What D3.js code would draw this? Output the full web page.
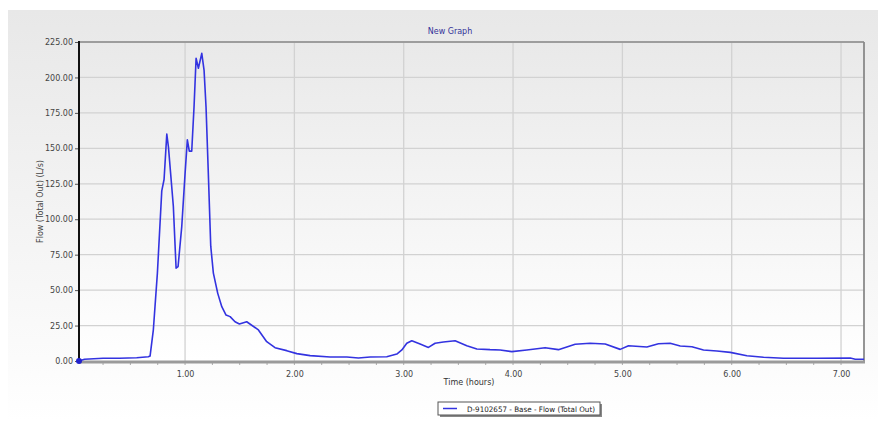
<!DOCTYPE html>
<html><head><meta charset="utf-8">
<script src="https://cdn.jsdelivr.net/npm/d3@7"></script>
<style>body{margin:0;background:#fff}svg{display:block}</style>
</head><body>
<script>
// ---- data ----
const timeHours = [0.03,0.08,0.25,0.4,0.558,0.664,0.68,0.71,0.747,0.787,0.808,0.833,0.848,0.893,0.918,0.936,0.970,1.0,1.021,1.039,1.061,1.082,1.101,1.122,1.153,1.174,1.192,1.213,1.235,1.259,1.299,1.336,1.375,1.412,1.457,1.497,1.564,1.671,1.747,1.823,1.930,2.022,2.144,2.327,2.48,2.586,2.693,2.845,2.937,2.983,3.028,3.074,3.15,3.226,3.287,3.363,3.47,3.577,3.669,3.79,3.882,3.989,4.126,4.293,4.415,4.568,4.705,4.843,4.98,5.056,5.224,5.33,5.437,5.529,5.636,5.742,5.865,5.987,6.139,6.291,6.474,6.78,7.084,7.13,7.21];
const flowLs = [0,1.2,1.9,1.9,2.3,3.0,3.5,22,62,120,128,160,151,109,65.5,66.5,95,132,156,148,148,179,213.5,206.5,217,205,179,132,81,62,47.7,38.3,32.4,31.3,27.7,26.1,27.7,21.9,13.6,9.4,7.3,5.2,3.8,2.8,2.8,2.1,2.8,3.0,4.9,7.8,12.5,14.3,12.0,9.6,12.5,13.4,14.3,10.8,8.5,8.0,7.8,6.6,7.8,9.4,8.0,11.8,12.5,12.0,8.2,10.8,9.9,12.2,12.5,10.6,10.1,7.8,7.1,6.1,3.7,2.6,1.9,1.9,2.1,1.2,1.2];
const yTicks = [0,25,50,75,100,125,150,175,200,225];
const xTicks = [1,2,3,4,5,6,7];
const title = "New Graph";
const xLabel = "Time (hours)";
const yLabel = "Flow (Total Out) (L/s)";
const legendLabel = "D-9102657 - Base - Flow (Total Out)";

const W = 878, H = 427;
const L = 79, R = 864, T = 42, B = 361;
const font = "'DejaVu Sans', Verdana, sans-serif";

const svg = d3.select("body").append("svg").attr("width", W).attr("height", H);
const defs = svg.append("defs");
const g1 = defs.append("linearGradient").attr("id","panelGrad").attr("x1",0).attr("y1",0).attr("x2",0).attr("y2",1);
g1.append("stop").attr("offset","0%").attr("stop-color","#e8e8e8");
g1.append("stop").attr("offset","85%").attr("stop-color","#fbfbfb");
g1.append("stop").attr("offset","100%").attr("stop-color","#ffffff");
const g2 = defs.append("linearGradient").attr("id","plotGrad").attr("x1",0).attr("y1",0).attr("x2",0).attr("y2",1);
g2.append("stop").attr("offset","0%").attr("stop-color","#e9e9e9");
g2.append("stop").attr("offset","100%").attr("stop-color","#ffffff");

svg.append("rect").attr("x",8).attr("y",10).attr("width",W-8).attr("height",410).attr("fill","url(#panelGrad)");

const x = d3.scaleLinear().domain([0.03, 7.21]).range([L, R]);
const y = d3.scaleLinear().domain([0, 225]).range([B, T]);

svg.append("rect").attr("x",L).attr("y",T).attr("width",R-L).attr("height",B-T).attr("fill","url(#plotGrad)");

// grid
svg.append("g").selectAll("line").data(yTicks.slice(1)).join("line")
  .attr("x1",L).attr("x2",R).attr("y1",d=>y(d)).attr("y2",d=>y(d))
  .attr("stroke","#d2d2d2").attr("stroke-width",1.3);
svg.append("g").selectAll("line").data(xTicks).join("line")
  .attr("x1",d=>x(d)).attr("x2",d=>x(d)).attr("y1",T).attr("y2",B)
  .attr("stroke","#d2d2d2").attr("stroke-width",1.3);

// borders
svg.append("line").attr("x1",L).attr("x2",R).attr("y1",T).attr("y2",T).attr("stroke","#8a8a8a").attr("stroke-width",1.5);
svg.append("line").attr("x1",R).attr("x2",R).attr("y1",T).attr("y2",B).attr("stroke","#8a8a8a").attr("stroke-width",1.8);

// x axis
const xAxis = d3.axisBottom(x).tickValues(xTicks).tickFormat(d3.format(".2f")).tickSize(0).tickPadding(10);
const gx = svg.append("g").attr("transform",`translate(0,${B})`).call(xAxis);
gx.select(".domain").remove();
gx.selectAll("text").attr("font-family",font).attr("font-size",8).attr("fill","#444");
const minor = d3.range(0.25, 7.21, 0.25);
svg.append("g").selectAll("line").data(minor).join("line")
  .attr("x1",d=>x(d)).attr("x2",d=>x(d)).attr("y1",B).attr("y2",B+4)
  .attr("stroke","#aaa").attr("stroke-width",1);
svg.append("line").attr("x1",L).attr("x2",R+1).attr("y1",B+1).attr("y2",B+1).attr("stroke","#9a9a9a").attr("stroke-width",3);

// y axis
const yAxis = d3.axisLeft(y).tickValues(yTicks).tickFormat(d3.format(".2f")).tickSize(4).tickPadding(2);
const gy = svg.append("g").attr("transform",`translate(${L},0)`).call(yAxis);
gy.select(".domain").remove();
gy.selectAll(".tick line").attr("stroke","#555");
gy.selectAll("text").attr("font-family",font).attr("font-size",8).attr("fill","#444");
svg.append("line").attr("x1",L).attr("x2",L).attr("y1",T-1).attr("y2",B+1).attr("stroke","#111").attr("stroke-width",2);

// line
const line = d3.line().x((d,i)=>x(timeHours[i])).y(d=>y(d)).curve(d3.curveLinear);
svg.append("path").datum(flowLs).attr("d",line).attr("fill","none")
  .attr("stroke","#3333e0").attr("stroke-width",1.6).attr("stroke-linejoin","round");
svg.append("circle").attr("cx",x(timeHours[0])).attr("cy",y(flowLs[0])).attr("r",3).attr("fill","#2222cc");

// texts
svg.append("text").attr("x",450).attr("y",34).attr("text-anchor","middle").attr("font-family",font).attr("font-size",8).attr("fill","#333399").text(title);
svg.append("text").attr("x",469).attr("y",385).attr("text-anchor","middle").attr("font-family",font).attr("font-size",8).attr("fill","#333").text(xLabel);
svg.append("text").attr("transform",`translate(43,${(T+B)/2}) rotate(-90)`).attr("text-anchor","middle").attr("font-family",font).attr("font-size",8).attr("fill","#444").text(yLabel);

// legend
const lg = svg.append("g");
lg.append("rect").attr("x",440).attr("y",404).attr("width",162).attr("height",13).attr("fill","#888");
lg.append("rect").attr("x",438).attr("y",402).attr("width",162).attr("height",13).attr("fill","#fff").attr("stroke","#555").attr("stroke-width",1);
lg.append("line").attr("x1",443).attr("x2",457).attr("y1",408.5).attr("y2",408.5).attr("stroke","#3333e0").attr("stroke-width",1.5);
lg.append("text").attr("x",467).attr("y",411.5).attr("font-family",font).attr("font-size",7.5)
  .attr("textLength",128).attr("lengthAdjust","spacingAndGlyphs").attr("fill","#222").text(legendLabel);
</script>
</body></html>
